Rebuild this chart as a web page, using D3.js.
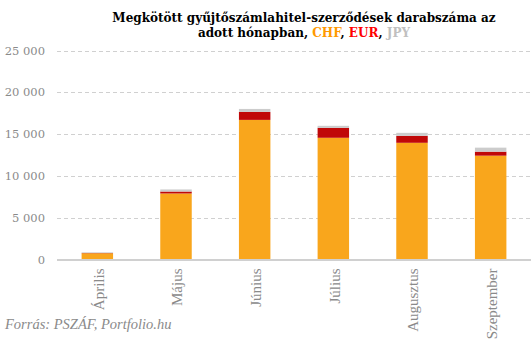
<!DOCTYPE html>
<html><head><meta charset="utf-8">
<script src="https://cdn.jsdelivr.net/npm/d3@7"></script>
<style>body{margin:0;background:#fff}svg{display:block}</style>
</head><body>
<svg id="c" width="531" height="342"></svg>
<script>
const categories = ["Április","Május","Június","Július","Augusztus","Szeptember"];
const chf = [750, 7900, 16700, 14560, 13960, 12420];
const eur = [30, 230, 950, 1190, 830, 480];
const jpy = [80, 250, 360, 240, 360, 480];
const yTicks = [0, 5000, 10000, 15000, 20000, 25000];
const seriesNames = ["CHF","EUR","JPY"];
const colors = {CHF:"#f9a61c", EUR:"#c00808", JPY:"#cccccc"};

const svg = d3.select("#c");
const rows = categories.map((c,i)=>({cat:c, CHF:chf[i], EUR:eur[i], JPY:jpy[i]}));
const x = d3.scaleBand().domain(categories).range([58,530]).paddingInner(0.6).paddingOuter(0.3);
const y = d3.scaleLinear().domain([0,25000]).range([259.5,50.5]);
const fmt = v => d3.format(",")(v).replace(/,/g," ");

// gridlines
svg.append("g").selectAll("line").data(yTicks.filter(t=>t>0)).join("line")
  .attr("x1",57).attr("x2",531).attr("y1",d=>Math.round(y(d))+0.5).attr("y2",d=>Math.round(y(d))+0.5)
  .attr("stroke","#d0d0d0").attr("stroke-width",1).attr("stroke-dasharray","4,3");

// y labels
const yAxis = d3.axisLeft(y).tickValues(yTicks).tickFormat(fmt).tickSize(0).tickPadding(0);
const ya = svg.append("g").attr("transform","translate(45,0)").call(yAxis);
ya.select(".domain").remove();
ya.selectAll("text").attr("fill","#8a8a8a").style("font-family","'DejaVu Serif', serif").style("font-size","11.5px");

// bars
const stack = d3.stack().keys(seriesNames)(rows);
svg.append("g").selectAll("g").data(stack).join("g").attr("fill",d=>colors[d.key])
  .selectAll("rect").data(d=>d).join("rect")
  .attr("x",d=>x(d.data.cat)).attr("width",x.bandwidth())
  .attr("y",d=>y(d[1])).attr("height",d=>y(d[0])-y(d[1]));

// baseline
svg.append("line").attr("x1",57).attr("x2",531).attr("y1",y(0)+0.5).attr("y2",y(0)+0.5)
  .attr("stroke","#d0d0d0").attr("stroke-width",2);

// x labels
const xAxis = d3.axisBottom(x).tickSize(0).tickPadding(0);
const xa = svg.append("g").attr("transform",`translate(0,${y(0)})`).call(xAxis);
xa.select(".domain").remove();
xa.selectAll("text").attr("transform","rotate(-90)").attr("text-anchor","end")
  .attr("x",-9).attr("y",1).attr("dy","0.35em")
  .attr("fill","#8a8a8a").style("font-family","'Liberation Serif', serif").style("font-size","15px");

// title
const t = svg.append("text").attr("text-anchor","middle").style("font-family","'DejaVu Serif', serif")
  .style("font-weight","bold").style("font-size","12px").attr("fill","#000");
t.append("tspan").attr("x",304).attr("y",22).text("Megkötött gyűjtőszámlahitel-szerződések darabszáma az");
const l2 = t.append("tspan").attr("x",304).attr("y",37);
l2.append("tspan").text("adott hónapban, ");
l2.append("tspan").attr("fill","#ff9900").text("CHF");
l2.append("tspan").text(", ");
l2.append("tspan").attr("fill","#ff0000").text("EUR");
l2.append("tspan").text(", ");
l2.append("tspan").attr("fill","#c0c0c0").text("JPY");

// source
svg.append("text").attr("x",5).attr("y",329).attr("fill","#8a8a8a")
  .style("font-family","'Liberation Serif', serif").style("font-style","italic").style("font-size","14.5px")
  .text("Forrás: PSZÁF, Portfolio.hu");
</script>
</body></html>
